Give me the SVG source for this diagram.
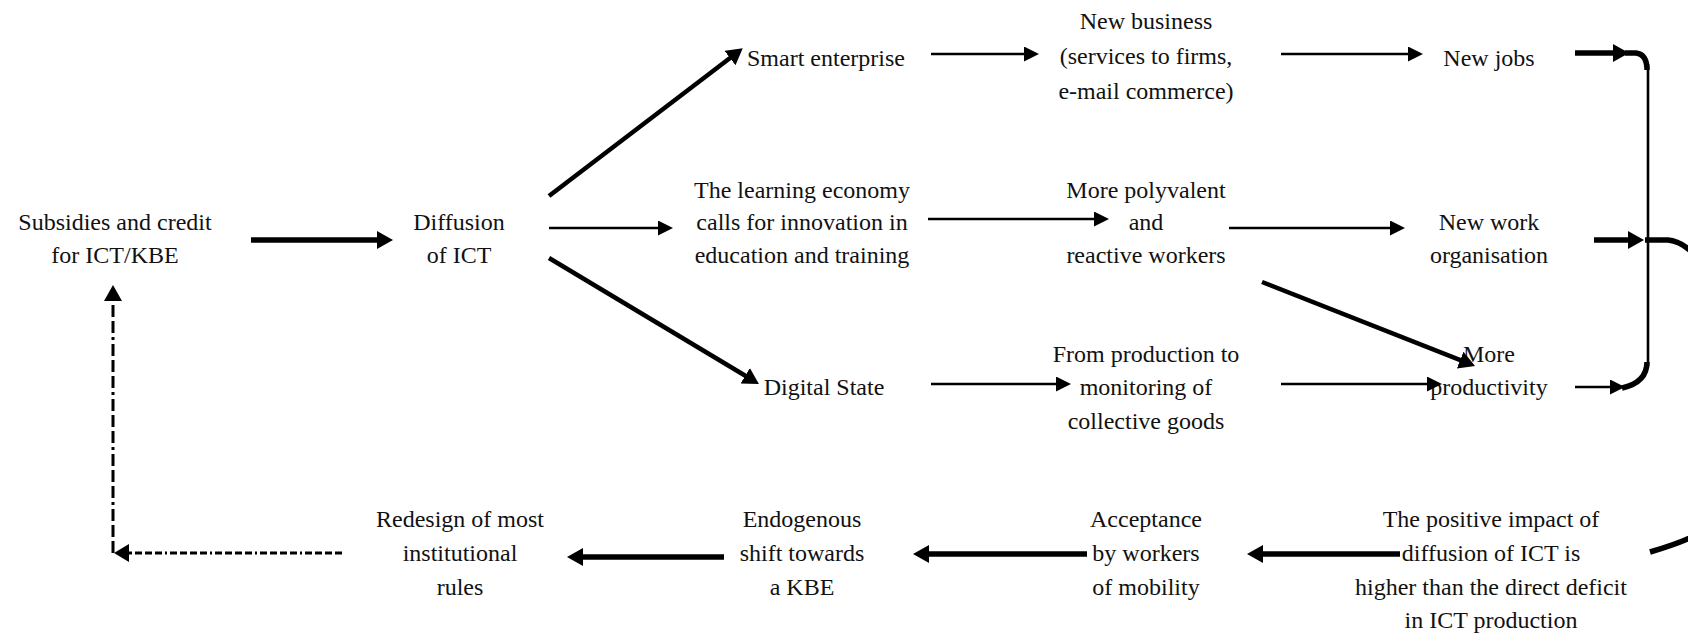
<svg xmlns="http://www.w3.org/2000/svg" width="1688" height="634" viewBox="0 0 1688 634">
  <style>
    text { font-family: "Liberation Serif", "Times New Roman", serif; font-size: 24px; fill: #111; text-anchor: middle; }
    .thin { stroke: #000; stroke-width: 2.6; fill: none; }
    .thick { stroke: #000; stroke-width: 5.5; fill: none; }
    .mid { stroke: #000; stroke-width: 4.5; fill: none; }
    .loop { stroke: #000; stroke-width: 2.6; fill: none; }
    .dash-h { stroke: #000; stroke-width: 3; fill: none; stroke-dasharray: 7 3 7 3 7 3 7 3 2 3; }
    .dash-v { stroke: #000; stroke-width: 3; fill: none; stroke-dasharray: 12 4 12 4 12 4 3 4; }
  </style>
  <defs>
    <!-- heads sit 11px beyond the end of each line -->
    <marker id="ah" markerUnits="userSpaceOnUse" markerWidth="16" markerHeight="16" refX="4" refY="7.5" orient="auto">
      <path d="M0,0 L15,7.5 L0,15 z" fill="#000"/>
    </marker>
    <marker id="ahb" markerUnits="userSpaceOnUse" markerWidth="18" markerHeight="20" refX="5" refY="9" orient="auto">
      <path d="M0,0 L16,9 L0,18 z" fill="#000"/>
    </marker>
  </defs>

  <g id="subsidies">
    <text x="115" y="230">Subsidies and credit</text>
    <text x="115" y="263">for ICT/KBE</text>
  </g>
  <g id="diffusion">
    <text x="459" y="230">Diffusion</text>
    <text x="459" y="263">of ICT</text>
  </g>
  <g id="smart-enterprise">
    <text x="826" y="66">Smart enterprise</text>
  </g>
  <g id="learning-economy">
    <text x="802" y="198">The learning economy</text>
    <text x="802" y="230">calls for innovation in</text>
    <text x="802" y="263">education and training</text>
  </g>
  <g id="digital-state">
    <text x="824" y="395">Digital State</text>
  </g>
  <g id="new-business">
    <text x="1146" y="29">New business</text>
    <text x="1146" y="64">(services to firms,</text>
    <text x="1146" y="99">e-mail commerce)</text>
  </g>
  <g id="polyvalent-workers">
    <text x="1146" y="198">More polyvalent</text>
    <text x="1146" y="230">and</text>
    <text x="1146" y="263">reactive workers</text>
  </g>
  <g id="monitoring">
    <text x="1146" y="362">From production to</text>
    <text x="1146" y="395">monitoring of</text>
    <text x="1146" y="429">collective goods</text>
  </g>
  <g id="new-jobs">
    <text x="1489" y="66">New jobs</text>
  </g>
  <g id="work-organisation">
    <text x="1489" y="230">New work</text>
    <text x="1489" y="263">organisation</text>
  </g>
  <g id="productivity">
    <text x="1489" y="362">More</text>
    <text x="1489" y="395">productivity</text>
  </g>
  <g id="positive-impact">
    <text x="1491" y="527">The positive impact of</text>
    <text x="1491" y="561">diffusion of ICT is</text>
    <text x="1491" y="595">higher than the direct deficit</text>
    <text x="1491" y="628">in ICT production</text>
  </g>
  <g id="acceptance">
    <text x="1146" y="527">Acceptance</text>
    <text x="1146" y="561">by workers</text>
    <text x="1146" y="595">of mobility</text>
  </g>
  <g id="endogenous-shift">
    <text x="802" y="527">Endogenous</text>
    <text x="802" y="561">shift towards</text>
    <text x="802" y="595">a KBE</text>
  </g>
  <g id="redesign">
    <text x="460" y="527">Redesign of most</text>
    <text x="460" y="561">institutional</text>
    <text x="460" y="595">rules</text>
  </g>

  <g id="connectors">
    <!-- forward chain -->
    <line class="thick" x1="251" y1="240" x2="382" y2="240" marker-end="url(#ahb)"/>
    <line class="mid" x1="549" y1="196" x2="734" y2="55" marker-end="url(#ahb)"/>
    <line class="thin" x1="549" y1="228" x2="662" y2="228" marker-end="url(#ah)"/>
    <line class="mid" x1="549" y1="258" x2="749.5" y2="378.3" marker-end="url(#ahb)"/>
    <line class="thin" x1="931" y1="54" x2="1028" y2="54" marker-end="url(#ah)"/>
    <line class="thin" x1="928" y1="219" x2="1098" y2="219" marker-end="url(#ah)"/>
    <line class="thin" x1="931" y1="384" x2="1060" y2="384" marker-end="url(#ah)"/>
    <line class="thin" x1="1281" y1="54" x2="1412" y2="54" marker-end="url(#ah)"/>
    <line class="thin" x1="1229" y1="228" x2="1394" y2="228" marker-end="url(#ah)"/>
    <line class="mid" x1="1262" y1="282" x2="1464.8" y2="361.9" marker-end="url(#ahb)"/>
    <line class="thin" x1="1281" y1="384" x2="1431" y2="384" marker-end="url(#ah)"/>

    <!-- right-hand bracket joining the three outcomes -->
    <line class="thick" x1="1575" y1="53" x2="1618" y2="53" marker-end="url(#ahb)"/>
    <path class="thick" d="M1625,53 L1636,53 C1644,54 1647,61 1647,70"/>
    <path class="loop" d="M1648,64 L1648,366"/>
    <path class="thick" d="M1647,362 C1647,374 1640,384 1622,388"/>
    <line class="thin" x1="1575" y1="387" x2="1614" y2="387" marker-end="url(#ah)"/>
    <line class="thick" x1="1594" y1="240" x2="1633" y2="240" marker-end="url(#ahb)"/>
    <path class="thick" d="M1645,240 L1668,240 Q1680,241 1692,252"/>
    <path class="thick" d="M1700,532 Q1690,540 1650,552"/>

    <!-- return chain -->
    <line class="thick" x1="1400" y1="554" x2="1258" y2="554" marker-end="url(#ahb)"/>
    <line class="thick" x1="1087" y1="554" x2="924" y2="554" marker-end="url(#ahb)"/>
    <line class="thick" x1="724" y1="557" x2="578" y2="557" marker-end="url(#ahb)"/>

    <!-- feedback to policy -->
    <path class="dash-h" d="M342,553 L118,553"/>
    <path d="M114,553 L129,544 L129,562 z" fill="#000"/>
    <path class="dash-v" d="M113,553 L113,296" marker-end="url(#ahb)"/>
  </g>
</svg>
